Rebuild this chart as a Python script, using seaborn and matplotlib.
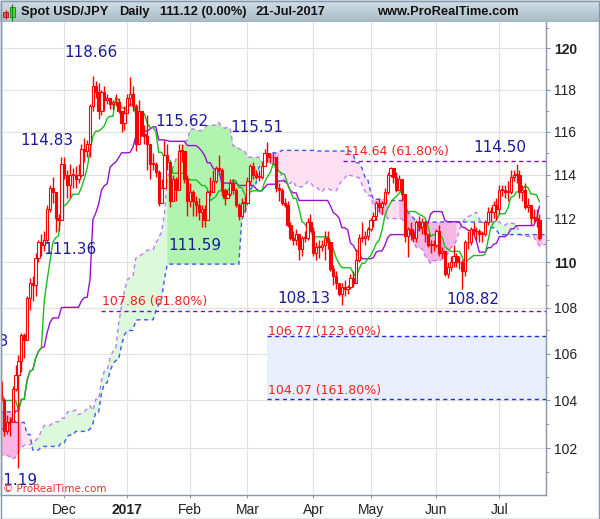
import numpy as np
import pandas as pd
import matplotlib
matplotlib.use("Agg")
import matplotlib.pyplot as plt
import matplotlib.ticker as mticker
from matplotlib.patches import Rectangle
import seaborn as sns

sns.set_style("white")
plt.rcParams['font.family'] = ['DejaVu Sans']

# ---------------- data ----------------
# pre-history (Jul 14 2016 - Oct 31 2016), used only for the Ichimoku indicators
hist_close = [105.3, 104.9, 106.2, 106.2, 106.9, 106.1, 106.1, 106.1, 104.7, 105.3, 105.3, 102.0,
              102.4, 100.8, 101.3, 101.2, 101.8, 102.5, 101.8, 101.2, 102.0, 101.3, 101.2, 100.3, 100.2, 99.9, 100.2, 100.8, 100.2, 100.5, 100.5, 101.8, 102.0, 102.9, 103.4,
              103.3, 104.0, 103.4, 101.8, 101.7, 102.1, 102.8, 102.6, 102.5, 102.3, 102.0, 102.3, 101.7, 101.7, 100.3, 100.8, 101.0, 100.4, 100.5, 100.7, 101.1, 101.3,
              101.7, 102.9, 103.5, 103.9, 102.9, 103.6, 103.6, 104.2, 103.6, 104.2, 103.9, 103.8, 103.4, 103.9, 103.8, 104.2, 104.3, 104.3, 105.3, 104.7, 104.8]
hist_high = [106.0, 106.3, 106.3, 106.5, 107.0, 107.49, 106.5, 106.5, 106.3, 106.6, 105.6, 105.6,
             102.8, 102.5, 101.4, 101.8, 102.0, 102.7, 102.6, 101.9, 102.2, 102.1, 101.5, 101.3, 100.8, 100.3, 100.5, 100.9, 100.8, 100.6, 100.7, 102.1, 102.3, 103.0, 103.5,
             104.0, 104.3, 104.1, 103.5, 102.2, 102.2, 103.2, 102.9, 102.8, 102.6, 102.5, 102.5, 102.3, 101.9, 101.9, 101.0, 101.2, 101.1, 100.7, 101.1, 101.6, 101.6,
             102.0, 103.0, 103.6, 104.0, 104.2, 103.7, 104.1, 104.3, 104.2, 104.6, 104.2, 104.1, 103.9, 104.0, 104.1, 104.5, 104.9, 104.6, 105.4, 105.5, 105.0]
hist_low = [104.6, 104.8, 104.9, 105.6, 106.0, 105.7, 105.7, 105.6, 104.2, 104.6, 103.9, 101.9,
            101.9, 100.7, 100.7, 100.9, 100.9, 101.7, 101.7, 101.0, 101.1, 101.2, 100.8, 99.55, 99.6, 99.6, 99.6, 100.0, 99.9, 100.0, 100.2, 99.9, 101.6, 101.9, 102.7,
            103.0, 102.6, 103.3, 101.4, 101.2, 101.3, 101.9, 101.9, 101.9, 101.9, 101.8, 101.8, 101.6, 101.4, 100.1, 100.1, 100.5, 100.1, 100.1, 100.1, 100.3, 100.6,
            101.1, 101.6, 102.7, 103.2, 102.5, 102.9, 103.2, 103.4, 103.2, 103.6, 103.6, 103.6, 103.1, 103.3, 103.5, 103.7, 104.1, 104.0, 104.3, 104.6, 104.6]

# displayed daily bars (Nov 1 2016 - Jul 21 2017)
close = [104.0, 102.7, 103.1, 103.1, 104.5, 105.1, 105.7, 106.8, 106.6, 108.4, 109.1, 109.0, 110.2, 110.9, 110.8, 111.0, 112.4, 113.4, 113.2, 112.0, 111.9, 114.5,
         114.0, 113.5, 114.0, 114.0, 113.8, 114.0, 115.2, 115.1, 115.4, 117.2, 118.2, 117.9, 117.0, 117.9, 117.5, 117.6, 117.3, 117.4, 117.4, 117.0, 116.4, 116.9,
         117.6, 117.8, 117.2, 115.4, 117.0, 115.9, 115.8, 115.4, 114.5, 114.5, 114.1, 112.7, 113.4, 114.9, 114.6, 112.8, 113.8, 113.3, 115.1, 115.1, 113.8, 112.8,
         113.2, 112.8, 112.6, 112.3, 112.4, 111.9, 113.2, 113.2, 113.7, 114.3, 114.2, 113.3, 112.9, 113.1, 113.6, 113.3, 112.6, 112.1, 112.7, 112.7,
         113.7, 114.4, 114.0, 113.9, 113.9, 114.4, 115.0, 114.8, 114.8, 114.8, 113.4, 113.3, 112.7, 112.6, 111.7, 111.1, 111.0, 111.3, 110.6, 111.1, 111.1, 111.8, 111.4,
         110.4, 110.7, 110.7, 110.8, 111.1, 110.9, 109.7, 109.4, 109.1, 108.6, 108.9, 108.8, 108.9, 109.3, 109.1, 110.1, 111.1, 111.1, 111.2, 111.5,
         111.9, 112.1, 112.7, 112.5, 112.7, 113.2, 114.0, 114.3, 113.9, 113.3, 113.8, 113.1, 111.2, 111.5, 111.3, 111.1, 111.8, 111.6, 111.8, 111.3, 110.8, 110.8, 110.8,
         111.4, 110.4, 110.5, 109.5, 109.8, 110.0, 110.3, 110.0, 110.0, 109.6, 110.9, 110.9, 111.5, 111.4, 111.4, 111.3, 111.3, 111.8, 112.3, 112.3, 112.6, 112.4,
         113.3, 113.3, 113.2, 113.2, 113.9, 114.0, 114.0, 113.2, 113.3, 112.5, 112.6, 112.0, 112.0, 111.9, 111.12]
high = [104.9, 104.1, 103.4, 103.3, 104.6, 105.5, 105.96, 106.9, 106.9, 108.5, 109.3, 109.4, 110.4, 111.0, 111.3, 111.4, 112.6, 113.5, 113.9, 113.0, 112.2, 114.8,
        114.83, 114.2, 114.5, 114.3, 114.4, 114.5, 115.4, 115.7, 115.6, 117.3, 118.66, 118.4, 118.3, 118.0, 118.2, 117.8, 117.6, 117.5, 117.8, 117.6, 117.0, 117.2,
        117.8, 118.6, 118.2, 117.3, 117.5, 117.0, 116.3, 116.8, 115.4, 115.0, 114.6, 114.2, 113.8, 115.62, 115.4, 114.3, 114.0, 113.9, 115.4, 115.4, 115.0, 114.0,
        113.6, 113.3, 113.0, 112.9, 112.6, 112.6, 113.3, 113.9, 114.2, 114.4, 114.9, 114.3, 113.4, 113.3, 113.8, 113.8, 113.4, 112.7, 112.9, 113.0,
        113.9, 114.5, 114.6, 114.2, 114.2, 114.6, 115.2, 115.51, 115.0, 115.0, 114.8, 113.6, 113.4, 112.9, 112.8, 111.8, 111.4, 111.5, 111.2, 111.2, 111.4, 112.0, 112.2,
        111.6, 110.9, 111.0, 111.0, 111.4, 111.4, 110.9, 109.9, 109.6, 109.1, 109.1, 109.2, 109.0, 109.5, 109.6, 110.6, 111.3, 111.8, 111.4, 111.6,
        112.0, 112.3, 112.8, 112.9, 112.8, 113.4, 114.1, 114.37, 114.3, 114.1, 114.0, 113.8, 113.1, 111.6, 111.8, 111.5, 111.9, 112.1, 112.0, 111.9, 111.3, 111.0, 111.0,
        111.5, 111.7, 110.7, 110.5, 110.0, 110.3, 110.8, 110.4, 110.3, 110.1, 111.0, 111.4, 111.6, 111.8, 111.6, 111.5, 111.4, 111.9, 112.5, 112.5, 112.8, 112.9,
        113.5, 113.5, 113.5, 113.7, 114.2, 114.2, 114.50, 114.2, 113.5, 113.6, 112.9, 112.6, 112.4, 112.4, 112.2]
low = [103.9, 102.5, 102.6, 102.5, 103.3, 104.4, 101.19, 105.2, 105.8, 106.7, 107.9, 108.3, 108.5, 110.0, 110.3, 110.5, 110.9, 112.3, 112.7, 111.36, 111.4, 111.9,
       113.8, 112.9, 112.9, 113.4, 113.4, 113.6, 113.9, 114.6, 114.8, 114.8, 117.0, 117.6, 116.6, 116.8, 117.0, 117.3, 117.1, 117.1, 117.2, 116.9, 116.0, 116.1,
       116.9, 117.2, 117.0, 115.1, 115.7, 115.8, 115.4, 114.2, 113.8, 114.2, 113.9, 112.57, 112.7, 113.4, 114.2, 112.5, 112.9, 112.8, 113.4, 114.6, 113.6, 112.1,
       112.5, 112.1, 112.1, 111.9, 111.59, 111.6, 111.9, 113.0, 113.2, 113.6, 114.0, 113.0, 112.6, 112.9, 113.0, 113.1, 112.5, 111.9, 112.1, 112.3,
       112.8, 113.5, 113.8, 113.8, 113.7, 113.8, 114.4, 114.6, 114.6, 114.5, 113.2, 112.8, 112.6, 112.5, 111.6, 111.0, 110.8, 110.8, 110.1, 110.3, 110.9, 111.0, 111.4,
       110.3, 110.1, 110.2, 110.5, 110.1, 110.6, 109.6, 109.0, 108.8, 108.5, 108.13, 108.5, 108.6, 108.8, 108.9, 109.8, 110.0, 110.9, 110.8, 111.0,
       111.4, 111.6, 111.9, 112.3, 112.2, 112.6, 113.1, 113.9, 113.6, 113.2, 113.3, 112.8, 110.9, 110.23, 111.0, 110.9, 110.9, 111.4, 111.3, 110.9, 110.7, 110.4, 110.5,
       110.7, 110.3, 110.2, 109.4, 109.3, 109.6, 109.8, 109.8, 109.7, 108.82, 109.4, 110.6, 110.8, 111.3, 111.0, 110.9, 110.9, 111.2, 111.7, 111.8, 112.0, 111.9,
       112.2, 113.0, 112.9, 112.8, 113.1, 113.7, 113.6, 112.9, 112.8, 112.4, 112.3, 111.7, 111.8, 111.6, 111.0]

month_labels = ["Dec", "2017", "Feb", "Mar", "Apr", "May", "Jun", "Jul"]
y_ticks = [102, 104, 106, 108, 110, 112, 114, 116, 118, 120]
y_minor = [101, 103, 105, 107, 109, 111, 113, 115, 117, 119, 121]

swing_labels = ["118.66", "114.83", "111.36", "115.62", "111.59", "115.51", "108.13", "108.82", "114.50"]
swing_pos_idx = [31.3, 16.0, 24.0, 63.1, 67.7, 89.3, 105.8, 164.8, 174.3]
swing_pos_price = [119.82, 115.61, 110.56, 116.46, 110.78, 116.18, 108.38, 108.34, 115.24]

fib_levels = [114.64, 107.86, 106.77, 104.07]
fib_texts = ["114.64 (61.80%)", "107.86 (61.80%)", "106.77 (123.60%)", "104.07 (161.80%)"]
fib_start = [119.4, 34.8, 92.8, 92.8]
fib_colors = ["#7a10b8", "#7a10b8", "#2030e0", "#2030e0"]
fib_text_price = [115.05, 108.25, 106.94, 104.41]

# ---------------- indicators ----------------
dates = pd.bdate_range("2016-07-14", "2017-07-21")
all_close = hist_close + close
all_high = hist_high + high
all_low = hist_low + low
assert len(dates) == len(all_close) == len(all_high) == len(all_low)
n_hist = len(hist_close)
idx = np.arange(len(all_close)) - n_hist

df = pd.DataFrame({"date": dates, "idx": idx, "close": all_close, "high": all_high, "low": all_low})
df["open"] = df["close"].shift(1).fillna(df["close"])
df["high"] = df[["high", "open", "close"]].max(axis=1)
df["low"] = df[["low", "open", "close"]].min(axis=1)
df["tenkan"] = (df.high.rolling(9).max() + df.low.rolling(9).min()) / 2
df["kijun"] = (df.high.rolling(26).max() + df.low.rolling(26).min()) / 2
spanA_raw = ((df.tenkan + df.kijun) / 2).values
spanB_raw = ((df.high.rolling(52).max() + df.low.rolling(52).min()) / 2).values

ext_idx = np.arange(idx[0], idx[-1] + 27)
cloud = pd.DataFrame({"idx": ext_idx})
cloud["spanA"] = np.r_[np.full(26, np.nan), spanA_raw]
cloud["spanB"] = np.r_[np.full(26, np.nan), spanB_raw]
cloud = cloud.merge(df[["idx", "high", "low"]], on="idx", how="left")
cloud = cloud[(cloud.idx >= -2) & (cloud.idx <= 192)].reset_index(drop=True)

vis = df[df.idx >= -2].reset_index(drop=True)
bars = df[df.idx >= 0].reset_index(drop=True)

first_of_month = bars.groupby(bars.date.dt.to_period("M"))["idx"].min()
tick_pos = list(first_of_month.values[1:])  # Dec .. Jul

# ---------------- figure ----------------
W, H = 600, 519
fig = plt.figure(figsize=(W / 100, H / 100), dpi=100)
fig.patch.set_facecolor("white")
ax = fig.add_axes([1 / W, 24 / H, 545 / W, 473 / H])
ax.set_facecolor("white")
frame_col = "#8898a8"

# cloud fills: pale everywhere, stronger where the bars trade inside the cloud
A = cloud.spanA.values
B = cloud.spanB.values
top = np.fmax(A, B)
bot = np.fmin(A, B)
overlap = (cloud.low.values <= top) & (cloud.high.values >= bot)
overlap = pd.Series(overlap).rolling(3, center=True, min_periods=1).max().astype(bool).values
ax.fill_between(cloud.idx, A, B, where=A >= B, interpolate=True, color="#dcf9dc", lw=0, zorder=1)
ax.fill_between(cloud.idx, A, B, where=B > A, interpolate=True, color="#fde0f2", lw=0, zorder=1)
ax.fill_between(cloud.idx, A, B, where=overlap & (A >= B), color="#b0f4b0", lw=0, zorder=1.1)
ax.fill_between(cloud.idx, A, B, where=overlap & (B > A), color="#f8b4e2", lw=0, zorder=1.1)

# fib rectangle / lines
ax.fill_between([fib_start[2], 192], fib_levels[3], fib_levels[2], color="#e8eefc", lw=0, zorder=0.8)
for lvl, st, col in zip(fib_levels, fib_start, fib_colors):
    ax.hlines(lvl, st, 192, colors=col, linestyles=(0, (3, 2.5)), lw=1.0, zorder=2)
for txt, st, tp in zip(fib_texts, fib_start, fib_text_price):
    ax.text(st + 0.3, tp, txt, color="#f02020", fontsize=9, ha="left", va="center",
            family="DejaVu Sans", zorder=6)

# span lines (dashed)
sns.lineplot(data=cloud, x="idx", y="spanA", ax=ax, color="#c07cf4", lw=1.0,
             linestyle=(0, (3, 2.5)), legend=False, zorder=2)
sns.lineplot(data=cloud, x="idx", y="spanB", ax=ax, color="#3a58f0", lw=1.0,
             linestyle=(0, (3, 2.5)), legend=False, zorder=2)

# tenkan / kijun
sns.lineplot(data=vis, x="idx", y="kijun", ax=ax, color="#9a10d0", lw=1.0, legend=False, zorder=2.5)
sns.lineplot(data=vis, x="idx", y="tenkan", ax=ax, color="#18c018", lw=1.0, legend=False, zorder=2.6)

# candles
up = bars.close >= bars.open
ax.vlines(bars.idx, bars.low, bars.high, colors="#ff0000", lw=1.0, zorder=3)
body_lo = np.minimum(bars.open, bars.close)
body_h = np.maximum(np.abs(bars.close - bars.open), 0.03)
ax.bar(bars.idx[up], body_h[up], bottom=body_lo[up], width=0.8, color="white",
       edgecolor="#ff0000", lw=0.8, zorder=3.2)
ax.bar(bars.idx[~up], body_h[~up], bottom=body_lo[~up], width=0.8, color="#ff0000",
       edgecolor="#ff0000", lw=0.8, zorder=3.2)

# swing labels
for txt, xi, yp in zip(swing_labels, swing_pos_idx, swing_pos_price):
    ax.text(xi, yp, txt, color="#1c1c9a", fontsize=11, ha="center", va="center", zorder=6)
ax.text(2.5, 106.5, "106.33", color="#1c1c9a", fontsize=11, ha="right", va="center", zorder=6, clip_on=True)
ax.text(12.5, 100.69, "101.19", color="#1c1c9a", fontsize=11, ha="right", va="center", zorder=6, clip_on=True)
ax.text(0.004, 0.013, "\u00a9 ProRealTime.com", transform=ax.transAxes, color="#e83030",
        fontsize=7.5, ha="left", va="center", zorder=6)

# axes
ax.set_yscale("log")
ax.set_ylim(100.08, 121.29)
ax.set_xlim(-0.1, 190.3)
ax.yaxis.tick_right()
ax.yaxis.set_label_position("right")
ax.yaxis.set_major_locator(mticker.FixedLocator(y_ticks))
ax.yaxis.set_major_formatter(mticker.FuncFormatter(lambda v, p: f"{v:.0f}"))
ax.yaxis.set_minor_locator(mticker.FixedLocator(y_minor))
ax.yaxis.set_minor_formatter(mticker.NullFormatter())
ax.set_xticks(tick_pos)
ax.set_xticklabels(month_labels)
ax.set_xlabel("")
ax.set_ylabel("")
ax.tick_params(axis="y", which="major", length=3, color=frame_col, pad=3, labelsize=10,
               labelcolor="#202020", right=True, left=False)
ax.tick_params(axis="y", which="minor", length=2.2, color=frame_col, right=True, left=False)
ax.tick_params(axis="x", which="major", length=2.5, color=frame_col, pad=3, labelsize=10,
               labelcolor="#202020", bottom=True)
for lab in ax.get_yticklabels():
    lab.set_family("Liberation Sans")
    if lab.get_text() in ("110", "120"):
        lab.set_fontweight("bold")
for lab in ax.get_xticklabels():
    lab.set_family("Liberation Sans")
    if lab.get_text() == "2017":
        lab.set_fontweight("bold")

ax.grid(True, which="major", color="#e2e2e2", lw=0.8)
ax.set_axisbelow(True)
for s in ("left", "bottom", "right"):
    ax.spines[s].set_color(frame_col)
    ax.spines[s].set_linewidth(1.0)
ax.spines["top"].set_visible(False)

# header bar
hax = fig.add_axes([0, (H - 22) / H, 1, 22 / H])
grad = np.linspace(0, 1, 50).reshape(-1, 1)
hax.imshow(grad, aspect="auto", cmap=matplotlib.colors.LinearSegmentedColormap.from_list(
    "hdr", ["#d2dfe8", "#a9bbc7"]), extent=[0, W, 22, 0])
hax.set_xlim(0, W)
hax.set_ylim(22, 0)
hax.axis("off")
hax.hlines(21.5, 0, W, colors=frame_col, lw=1)
hax.vlines(5.7, 9.5, 19, colors="#b02020", lw=0.8)
hax.add_patch(Rectangle((3.2, 11.5), 5, 5.5, facecolor="#f05050", edgecolor="#a02020", lw=0.6))
hax.vlines(12.2, 3.5, 20.5, colors="#108010", lw=0.8)
hax.add_patch(Rectangle((9.5, 6.5), 5.5, 10.5, facecolor="#40e040", edgecolor="#108010", lw=0.6))
hdr_font = dict(family="Liberation Sans", weight="bold", fontsize=9.3, color="#111111", va="center")
hax.text(21, 12, "Spot USD/JPY", ha="left", **hdr_font)
hax.text(119, 12, "Daily", ha="left", **hdr_font)
hax.text(160, 12, "111.12 (0.00%)", ha="left", **hdr_font)
hax.text(256, 12, "21-Jul-2017", ha="left", **hdr_font)
hax.text(519, 12, "www.ProRealTime.com", ha="right", **hdr_font)

fig.add_artist(Rectangle((0.5 / W, 0.5 / H), (W - 1.5) / W, (H - 1.5) / H, transform=fig.transFigure,
                         fill=False, edgecolor=frame_col, lw=1.0))

fig.savefig("out.png", dpi=100)
